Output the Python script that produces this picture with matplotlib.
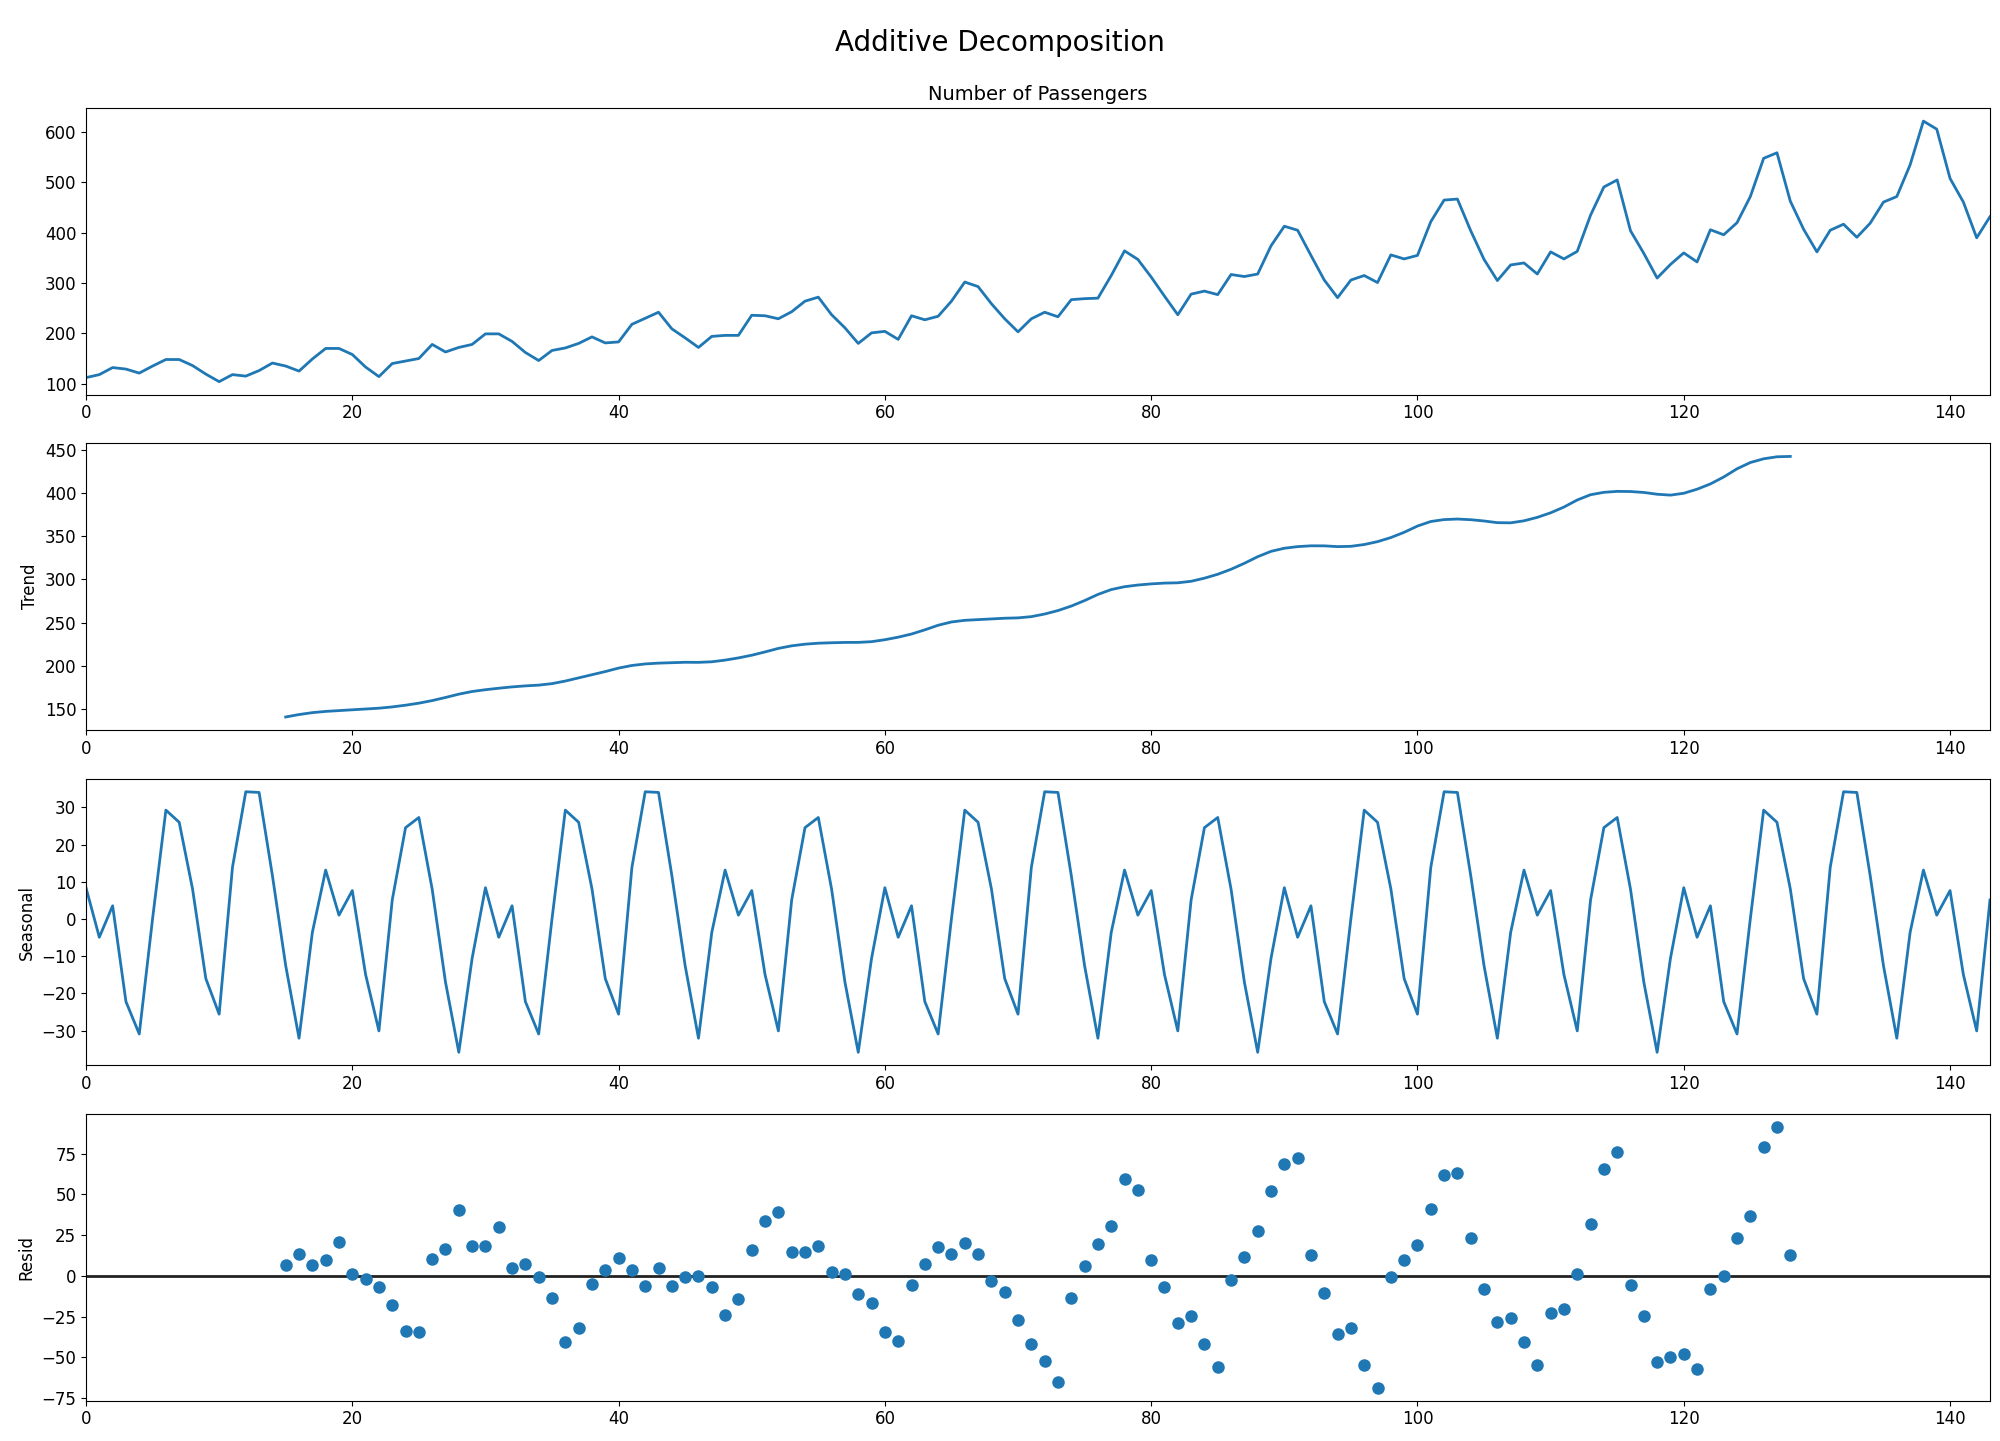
import numpy as np
import matplotlib
matplotlib.use("Agg")
import matplotlib.pyplot as plt

passengers = [112,118,132,129,121,135,148,148,136,119,104,118,
115,126,141,135,125,149,170,170,158,133,114,140,
145,150,178,163,172,178,199,199,184,162,146,166,
171,180,193,181,183,218,230,242,209,191,172,194,
196,196,236,235,229,243,264,272,237,211,180,201,
204,188,235,227,234,264,302,293,259,229,203,229,
242,233,267,269,270,315,364,347,312,274,237,278,
284,277,317,313,318,374,413,405,355,306,271,306,
315,301,356,348,355,422,465,467,404,347,305,336,
340,318,362,348,363,435,491,505,404,359,310,337,
360,342,406,396,420,472,548,559,463,407,362,405,
417,391,419,461,472,535,622,606,508,461,390,432]
period = 30

x = np.array(passengers, float)
n = len(x)
filt = np.r_[0.5, np.ones(period - 1), 0.5] / period
trend = np.full(n, np.nan)
h = period // 2
for i in range(h, n - h):
    trend[i] = np.dot(x[i - h:i + h + 1], filt)
detr = x - trend
pavg = np.array([np.nanmean(detr[k::period]) for k in range(period)])
pavg -= pavg.mean()
seasonal = np.tile(pavg, n // period + 1)[:n]
resid = x - trend - seasonal
idx = np.arange(n)

fig, axes = plt.subplots(4, 1, figsize=(20, 14.41), dpi=100)
c = '#1f77b4'
axes[0].plot(idx, x, color=c, lw=2)
axes[0].set_title("Number of Passengers", fontsize=14)
axes[1].plot(idx, trend, color=c, lw=2)
axes[1].set_ylabel("Trend", fontsize=12)
axes[2].plot(idx, seasonal, color=c, lw=2)
axes[2].set_ylabel("Seasonal", fontsize=12)
axes[3].plot(idx, resid, marker='o', ls='none', color=c, markersize=8)
axes[3].axhline(0, color='#222222', lw=2, zorder=-1)
axes[3].set_ylabel("Resid", fontsize=12)
for ax in axes:
    ax.set_xlim(0, n - 1)
    ax.tick_params(labelsize=12)
fig.suptitle("Additive Decomposition", fontsize=20)
fig.subplots_adjust(left=0.043, right=0.995, top=0.925, bottom=0.028, hspace=0.17)
fig.savefig("out.png")
